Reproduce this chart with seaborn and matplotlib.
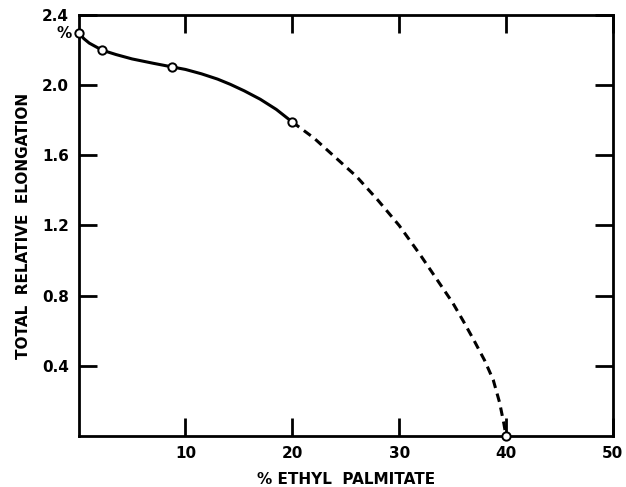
import matplotlib
matplotlib.use("Agg")
import matplotlib.pyplot as plt
import pandas as pd
import seaborn as sns

# measured points (open circles)
pct_measured = [0.0, 2.2, 8.7, 20.0, 40.0]
elong_measured = [2.30, 2.20, 2.105, 1.79, 0.0]

# solid curve
solid_x = [0.0, 0.5, 1.0, 1.6, 2.2, 3.5, 5.0, 7.0, 8.7, 10.0, 11.5, 13.0, 14.2, 15.5, 17.0, 18.5, 20.0]
solid_y = [2.30, 2.265, 2.24, 2.22, 2.20, 2.175, 2.15, 2.125, 2.105, 2.09, 2.065, 2.035, 2.005, 1.968, 1.92, 1.862, 1.79]

# dashed (extrapolated) curve
dashed_x = [20.0, 22.0, 24.0, 26.0, 28.0, 30.0, 32.0, 34.0, 35.0, 36.0, 37.0, 38.0, 38.8, 39.4, 39.8, 40.0]
dashed_y = [1.79, 1.70, 1.59, 1.48, 1.345, 1.20, 1.03, 0.85, 0.76, 0.655, 0.545, 0.43, 0.32, 0.19, 0.07, 0.0]

x_ticks = [10, 20, 30, 40, 50]
y_ticks = [0.4, 0.8, 1.2, 1.6, 2.0, 2.4]
x_label = "% ETHYL  PALMITATE"
y_label = "TOTAL  RELATIVE  ELONGATION"

sns.set_theme(style="ticks")
plt.rcParams["font.family"] = ["DejaVu Sans"]
plt.rcParams["text.color"] = "black"
plt.rcParams["axes.labelcolor"] = "black"
plt.rcParams["xtick.color"] = "black"
plt.rcParams["ytick.color"] = "black"

fig = plt.figure(figsize=(6.26, 4.87), dpi=100)
ax = fig.add_axes([0.1256, 0.105, 0.979 - 0.1256, 0.969 - 0.105])

pts = pd.DataFrame({"x": pct_measured, "y": elong_measured})
solid = pd.DataFrame({"x": solid_x, "y": solid_y})
dashed = pd.DataFrame({"x": dashed_x, "y": dashed_y})

sns.lineplot(data=solid, x="x", y="y", ax=ax, color="black", lw=2.2,
             estimator=None, sort=False, solid_joinstyle="round",
             solid_capstyle="round")
sns.lineplot(data=dashed, x="x", y="y", ax=ax, color="black", lw=2.2,
             estimator=None, sort=False, linestyle=(0, (2.8, 1.9)),
             dash_joinstyle="round")
ax.plot(pts["x"], pts["y"], linestyle="none", marker="o", markersize=6,
        markerfacecolor="white", markeredgecolor="black", markeredgewidth=1.4,
        zorder=5, clip_on=False)

ax.set_xlim(0, 50)
ax.set_ylim(0, 2.4)
ax.set_xticks(x_ticks)
ax.set_yticks(y_ticks)
ax.set_xticklabels([str(t) for t in x_ticks])
ax.set_yticklabels([f"{t:.1f}" for t in y_ticks])

for s in ax.spines.values():
    s.set_visible(True)
    s.set_linewidth(2.0)
    s.set_color("black")

ax.tick_params(axis="both", direction="in", length=13, width=2.0, colors="black",
               labelsize=11, pad=7, top=True, right=True, labeltop=False,
               labelright=False)
for lab in ax.get_xticklabels() + ax.get_yticklabels():
    lab.set_fontweight("bold")
    lab.set_color("black")

ax.set_xlabel(x_label, fontsize=11, fontweight="bold", labelpad=8, color="black")
ax.set_ylabel(y_label, fontsize=11, fontweight="bold", labelpad=8, color="black")

ax.annotate("%", xy=(-0.012, 0.957), xycoords="axes fraction", ha="right",
            va="center", fontsize=11, fontweight="bold", color="black")

fig.savefig("out.png", dpi=100)
